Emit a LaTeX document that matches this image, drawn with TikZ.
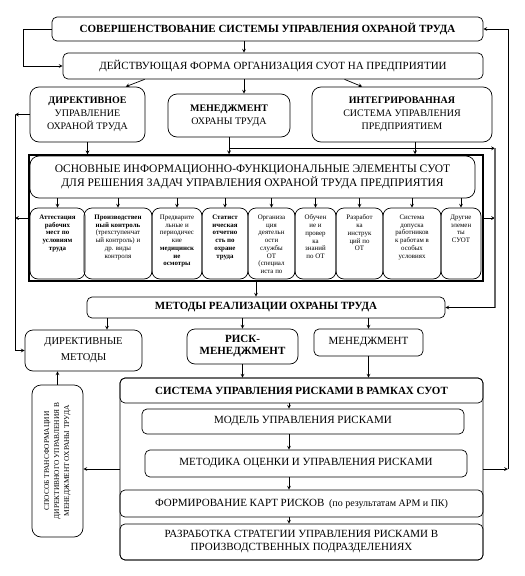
\documentclass[tikz,border=0pt]{standalone}
\usepackage{fontspec}
\setmainfont{Liberation Serif}
\usepackage{tikz}
\usetikzlibrary{shapes,arrows,positioning,fit,calc}

\begin{document}
\begin{tikzpicture}[
      x=1pt, y=-1pt,
      box/.style={rectangle, draw, line width=0.7pt, rounded corners=5pt,
                  align=center, inner sep=2pt, font=\fontsize{11}{13}\selectfont},
      bbox/.style={box, font=\fontsize{11}{13}\selectfont\bfseries},
      form/.style={box, rounded corners=9pt, font=\fontsize{10}{13}\selectfont},
      elem/.style={draw, line width=0.7pt, rounded corners=8pt,
                  inner xsep=1pt, inner ysep=7pt, font=\fontsize{6.9}{7.7}\selectfont,
                  execute at begin node={\begin{minipage}[c][57pt][t]{#1}\centering},
                  execute at end node={\end{minipage}}},
      arr/.style={->, >=stealth, line width=0.7pt},
      bus/.style={draw=black!60, line width=1.3pt},
    ]
    \useasboundingbox (0,0) rectangle (525,576);

    % Bus lines and columns
    \coordinate (lbus) at (15,0);
    \coordinate (lloop) at (23,0);
    \coordinate (rbus) at (495,0);
    \coordinate (obus) at (508,0);
    \coordinate (midcol) at (244,0);
    \coordinate (dcol) at (107,0);
    \coordinate (chain) at (289,0);

    % Top
    \node[bbox, minimum width=431, minimum height=24] (improve) at (267.5,29)
      {СОВЕРШЕНСТВОВАНИЕ СИСТЕМЫ УПРАВЛЕНИЯ ОХРАНОЙ ТРУДА};
    \node[box, minimum width=420, minimum height=26] (current) at (273,66)
      {ДЕЙСТВУЮЩАЯ ФОРМА ОРГАНИЗАЦИЯ СУОТ НА ПРЕДПРИЯТИИ};

    % Forms of management
    \node[form, minimum width=115, minimum height=55] (directive) at (87.5,114.5)
      {\textbf{ДИРЕКТИВНОЕ}\\УПРАВЛЕНИЕ\\ОХРАНОЙ ТРУДА};
    \node[form, minimum width=122, minimum height=43] (mgmt) at (229,115.5)
      {\textbf{МЕНЕДЖМЕНТ}\\ОХРАНЫ ТРУДА};
    \node[form, minimum width=180, minimum height=55] (integr) at (402,114.5)
      {\textbf{ИНТЕГРИРОВАННАЯ}\\СИСТЕМА УПРАВЛЕНИЯ\\ПРЕДПРИЯТИЕМ};

    % Elements of SUOT
    \node[draw, line width=1.5pt, inner sep=0pt, minimum width=454,
          minimum height=126] (frame) at (256,218) {};
    \node[box, rounded corners=9pt, minimum width=445, minimum height=42,
          font=\fontsize{11.5}{14}\selectfont] (head) at (252.5,177)
      {ОСНОВНЫЕ ИНФОРМАЦИОННО-ФУНКЦИОНАЛЬНЫЕ ЭЛЕМЕНТЫ СУОТ\\
       ДЛЯ РЕШЕНИЯ ЗАДАЧ УПРАВЛЕНИЯ ОХРАНОЙ ТРУДА ПРЕДПРИЯТИЯ};
    \node[elem=53pt] (e1) at (57.5,243.5)
      {\textbf{Аттестация\\рабочих\\мест по\\условиям\\труда}};
    \node[elem=66pt] (e2) at (118,243.5)
      {\textbf{Производствен\\ный контроль}\\(трехступенчат\\ый контроль) и\\др. виды\\контроля};
    \node[elem=48pt] (e3) at (177,243.5)
      {Предварите\\льные и\\периодичес\\кие\\\textbf{медицинск\\ие\\осмотры}};
    \node[elem=44pt] (e4) at (225,243.5)
      {\textbf{Статист\\ическая\\отчетно\\сть по\\охране\\труда}};
    \node[elem=45pt] (e5) at (271.5,243.5)
      {Организа\\ция\\деятельн\\ости\\службы\\ОТ\\(специал\\иста по};
    \node[elem=39pt] (e6) at (315.5,243.5)
      {Обучен\\ие и\\провер\\ка\\знаний\\по ОТ};
    \node[elem=45pt] (e7) at (359.5,243.5)
      {Разработ\\ка\\инструк\\ций по\\ОТ};
    \node[elem=56pt] (e8) at (412,243.5)
      {Система\\допуска\\работников\\к работам в\\особых\\условиях};
    \node[elem=38pt] (e9) at (461,243.5)
      {Другие\\элемен\\ты\\СУОТ};

    % Methods
    \node[bbox, minimum width=358, minimum height=21] (methods) at (266,307.5)
      {МЕТОДЫ РЕАЛИЗАЦИИ ОХРАНЫ ТРУДА};
    \node[box, rounded corners=8pt, minimum width=117, minimum height=41,
          font=\fontsize{10.5}{16}\selectfont] (dirmeth) at (83.5,350.5)
      {ДИРЕКТИВНЫЕ\\МЕТОДЫ};
    \node[bbox, rounded corners=8pt, minimum width=111, minimum height=35,
          font=\fontsize{11}{12}\selectfont\bfseries] (riskm) at (242.5,346.5)
      {РИСК-\\МЕНЕДЖМЕНТ};
    \node[box, minimum width=109, minimum height=27] (mgmt2) at (368.5,342.5)
      {МЕНЕДЖМЕНТ};

    % Transformation
    \node[box, rounded corners=9pt, minimum width=51, minimum height=152] (transform) at (57.5,461) {};
    \node[rotate=90, align=center, font=\fontsize{7.4}{10}\selectfont] (transformtxt) at (transform)
      {СПОСОБ ТРАНСФОРМАЦИИ\\ДИРЕКТИВНОГО УПРАВЛЕНИЯ В\\МЕНЕДЖМЕНТ ОХРАНЫ ТРУДА};

    % Risk management system
    \node[box, minimum width=363, minimum height=182] (risk) at (301.5,469) {};
    \node[bbox, minimum width=363, minimum height=25] (risktitle) at (301.5,390.5)
      {СИСТЕМА УПРАВЛЕНИЯ РИСКАМИ В РАМКАХ СУОТ};
    \node[box, minimum width=322, minimum height=25] (model) at (303,421.5)
      {МОДЕЛЬ УПРАВЛЕНИЯ РИСКАМИ};
    \node[box, minimum width=322, minimum height=27] (method) at (306,463.5)
      {МЕТОДИКА ОЦЕНКИ И УПРАВЛЕНИЯ РИСКАМИ};
    \node[box, minimum width=363, minimum height=27] (maps) at (301.5,503.5)
      {ФОРМИРОВАНИЕ КАРТ РИСКОВ \,{\fontsize{10}{12}\selectfont(по результатам АРМ и ПК)}};
    \node[box, minimum width=363, minimum height=36] (strategy) at (301.5,542)
      {РАЗРАБОТКА СТРАТЕГИИ УПРАВЛЕНИЯ РИСКАМИ В\\ПРОИЗВОДСТВЕННЫХ ПОДРАЗДЕЛЕНИЯХ};

    % Arrows: top part
    \draw[arr] (improve.south -| midcol) -- (current.north -| midcol);
    \draw[arr] (improve.west) -- (improve.west -| lloop) |- (current.west);
    \draw[arr] ($(current.south west)!0.195!(current.south east)$) -- ($(directive.north west)!0.83!(directive.north east)$);
    \draw[arr] (current.south -| midcol) -- (mgmt.north -| midcol);
    \draw[arr] ($(current.south west)!0.67!(current.south east)$) -- ($(integr.north west)!0.28!(integr.north east)$);

    % Arrows: forms to elements
    \coordinate (mbus) at ($(mgmt.south)+(0,11)$);
    \coordinate (icol) at ($(integr.south)+(13,0)$);
    \draw[arr] (directive.south) -- (directive.south |- frame.north);
    \draw[arr] (mgmt.south) -- (mgmt.south |- frame.north);
    \draw[arr] (icol) -- (icol |- frame.north);
    \draw[arr] (mbus) -- (mbus -| rbus);

    % Arrows: header to elements
    \draw[arr] (e1.north |- head.south) -- (e1.north);
    \draw[arr] (e2.north |- head.south) -- (e2.north);
    \draw[arr] (e3.north |- head.south) -- (e3.north);
    \draw[arr] (e4.north |- head.south) -- (e4.north);
    \draw[arr] (e5.north |- head.south) -- (e5.north);
    \draw[arr] (e6.north |- head.south) -- (e6.north);
    \draw[arr] (e7.north |- head.south) -- (e7.north);
    \draw[arr] (e8.north |- head.south) -- (e8.north);
    \draw[arr] (e9.north |- head.south) -- (e9.north);

    % Arrows: left bus
    \draw[arr] (directive.west) -- (directive.west -| lbus);
    \draw[arr] (frame.west) -- (frame.west -| lbus);
    \draw[arr] (directive.west -| lbus) -- (lbus |- dirmeth.west) -- (dirmeth.west);

    % Arrows: right bus
    \draw[arr] (frame.east) -- (frame.east -| rbus);
    \draw[bus] (mbus -| rbus) -- (rbus |- methods.east);
    \draw[arr] (rbus |- methods.east) -- (methods.east);
    \draw[arr] (frame.south) -- (frame.south |- methods.north);

    % Arrows: methods
    \draw[arr] (methods.south -| dcol) -- (dcol |- dirmeth.north);
    \draw[arr] (methods.south -| riskm.north) -- (riskm.north);
    \draw[arr] (methods.south -| mgmt2.north) -- (mgmt2.north);
    \draw[arr] (riskm.south) -- (riskm.south |- risk.north);
    \draw[arr] (mgmt2.south) -- (mgmt2.south |- risk.north);
    \draw[arr] (transform.north) -- (transform.north |- dirmeth.south);
    \draw[arr] (risk.west) -- (risk.west -| transform.east);

    % Arrows: feedback
    \draw[arr] (risk.east) -- (risk.east -| obus);
    \draw[arr] (risk.east -| obus) -- (obus |- improve.east) -- (improve.east);

    % Arrows: risk chain
    \draw[arr] (risktitle.south -| chain) -- (model.north -| chain);
    \draw[arr] (model.south -| chain) -- (method.north -| chain);
    \draw[arr] (method.south -| chain) -- (maps.north -| chain);
    \draw[arr] (maps.south -| chain) -- (strategy.north -| chain);

\end{tikzpicture}
\end{document}
